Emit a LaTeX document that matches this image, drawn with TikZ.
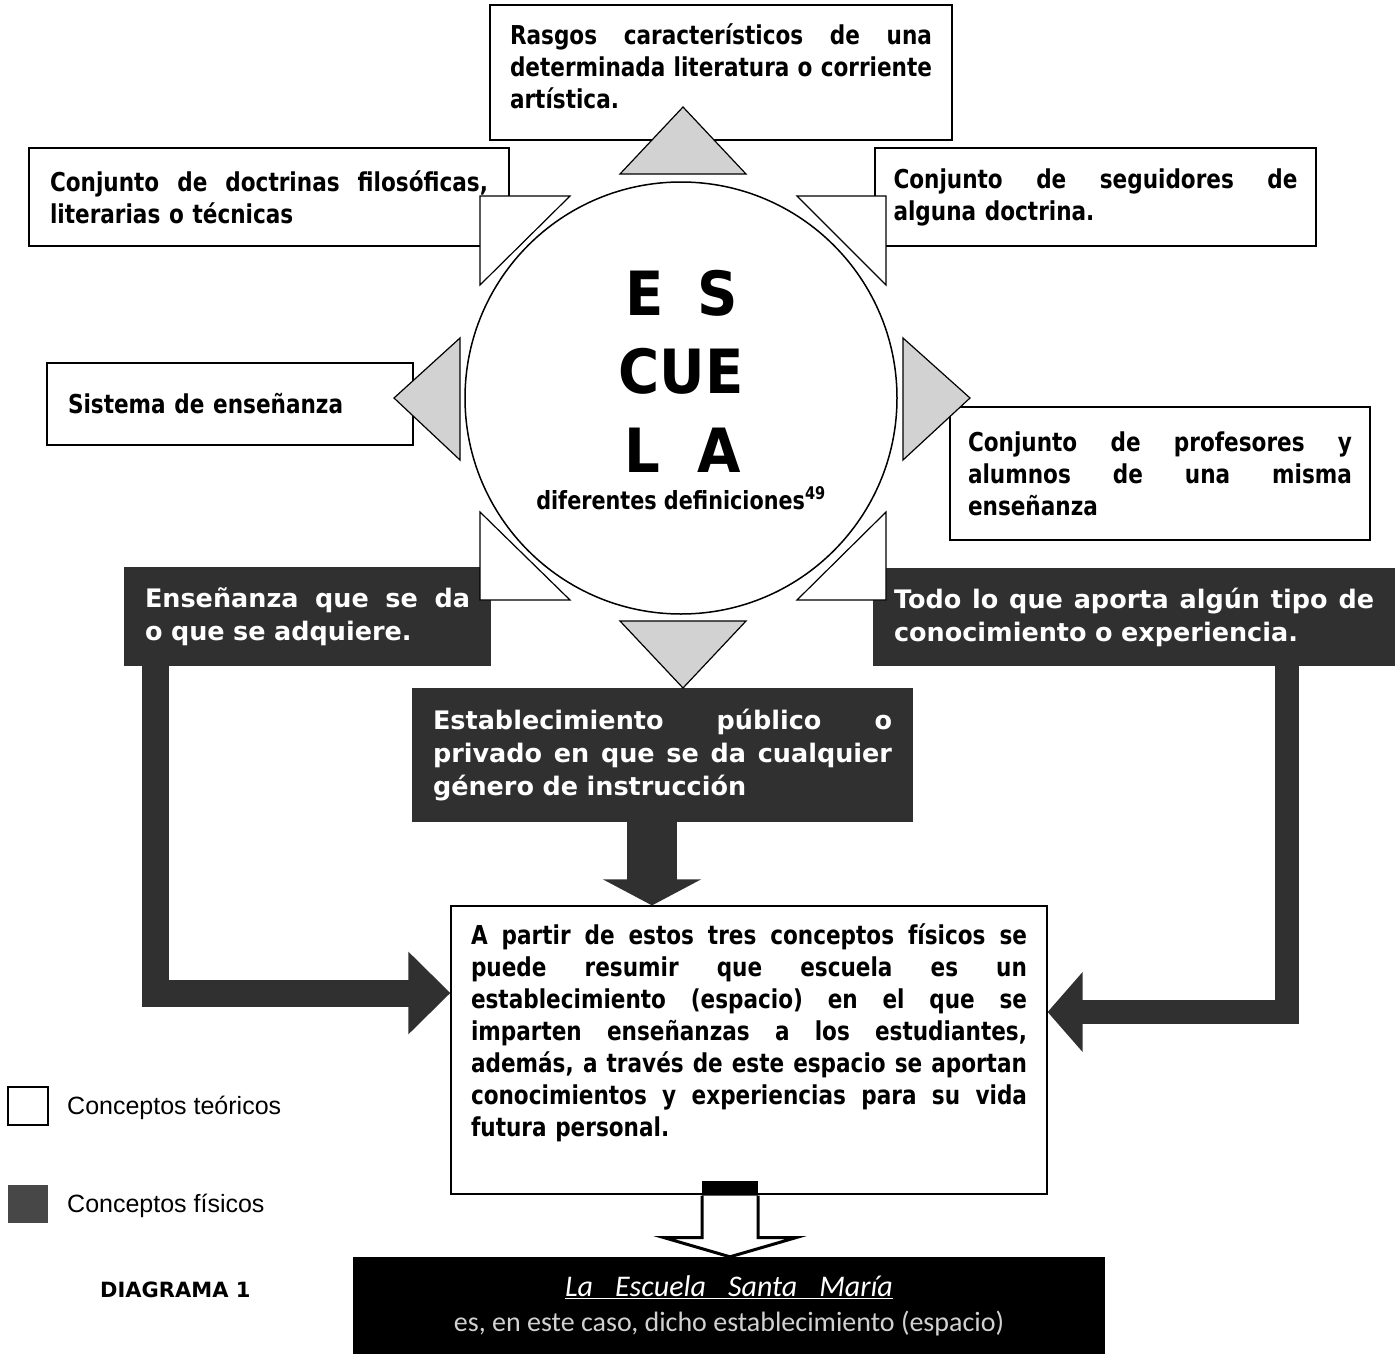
\documentclass[tikz,border=0pt]{standalone}
\usepackage{fontspec}
\setmainfont{DejaVu Sans}
\newfontfamily\bkfont{DejaVu Sans}[FakeStretch=0.83]
\newfontfamily\whfont{DejaVu Sans}
\newfontfamily\cfont{DejaVu Sans}[FakeStretch=0.92]
\newfontfamily\lgfont{Liberation Sans}
\newfontfamily\smfont{Carlito}
\usetikzlibrary{arrows.meta,calc}
\definecolor{dk}{HTML}{303030}
\definecolor{trigray}{HTML}{D2D2D2}
\newcommand{\jl}[1]{\leavevmode\hbox to \hsize{\spaceskip=\fontdimen2\font plus 1fil\relax #1}\\}
\begin{document}
\begin{tikzpicture}[x=1pt,y=-1pt,
  tbox/.style={draw=black, line width=1.2pt, fill=white, inner xsep=20pt, inner ysep=0pt,
    align=left, text=black, font=\bkfont\bfseries\fontsize{26}{32}\selectfont},
  tfree/.style={inner sep=0pt, align=left, text=black, font=\bkfont\bfseries\fontsize{26}{32}\selectfont},
  dbox/.style={fill=dk, inner xsep=21pt, inner ysep=0pt, align=left, text=white,
    font=\whfont\bfseries\fontsize{25.5}{33}\selectfont},
  tri/.style={draw=black, line width=1.2pt, line join=miter},
  fatarrow/.style={draw=dk, line join=miter}
]
\useasboundingbox (0,0) rectangle (1400,1354);

% theoretical concept boxes
\node[draw=black, line width=1.2pt, fill=white, minimum width=462pt, minimum height=135pt, inner sep=0pt] (ras) at (721,72.5) {};
\node[tfree, text width=422pt] (rast) at (721,66)
  {\jl{Rasgos característicos de una}\jl{determinada literatura o corriente}artística.};
\node[tbox, text width=438pt, inner xsep=21pt, minimum height=98pt] (doc) at (269,197)
  {\jl{Conjunto de doctrinas filosóficas,}literarias o técnicas};
\node[tbox, text width=404pt, inner xsep=18.5pt, minimum height=98pt] (seg) at (1095.5,197)
  {\jl{Conjunto de seguidores de}alguna doctrina.};
\node[tbox, text width=324pt, inner xsep=21pt, minimum height=82pt] (sis) at (230,404)
  {Sistema de enseñanza};
\node[tbox, text width=384pt, inner xsep=18pt, minimum height=133pt] (pro) at (1160,473.5)
  {\jl{Conjunto de profesores y}\jl{alumnos de una misma}enseñanza};

% physical concept boxes
\node[dbox, text width=325pt, minimum height=99pt] (ens) at (307.5,616.5)
  {\jl{Enseñanza que se da}o que se adquiere.};
\node[dbox, text width=480pt, minimum height=98pt] (tod) at (1134,617)
  {\jl{Todo lo que aporta algún tipo de}conocimiento o experiencia.};
\node[dbox, text width=459pt, minimum height=134pt] (est) at (662.5,755)
  {\jl{Establecimiento público o}\jl{privado en que se da cualquier}género de instrucción};

% central summary box
\node[tbox, text width=556pt, minimum height=288pt] (cen) at (749,1050)
  {\jl{A partir de estos tres conceptos físicos se}\jl{puede resumir que escuela es un}\jl{establecimiento (espacio) en el que se}\jl{imparten enseñanzas a los estudiantes,}\jl{además, a través de este espacio se aportan}\jl{conocimientos y experiencias para su vida}futura personal.\par\rule{0pt}{34pt}};

% bottom box
\node[fill=black, minimum width=752pt, minimum height=97pt, inner sep=0pt, align=center,
  text=white, font=\smfont\fontsize{28}{35}\selectfont] (sm) at (729,1305.5)
  {{\itshape\fontsize{30}{35}\selectfont\underline{\hbox to 328pt{\spaceskip=\fontdimen2\font plus 1fil\relax La Escuela Santa María}}}\\
   {\color{black!18}es, en este caso, dicho establecimiento (espacio)}};

% triangles
\filldraw[tri, fill=trigray] (683,107) -- (620,174) -- (746,174) -- cycle;
\filldraw[tri, fill=trigray] (394,398) -- (460,338) -- (460,460) -- cycle;
\filldraw[tri, fill=trigray] (970,398) -- (903,338) -- (903,460) -- cycle;
\filldraw[tri, fill=trigray] (620,621) -- (746,621) -- (683,688) -- cycle;
\filldraw[tri, fill=white] (480,196) -- (570,196) -- (480,285) -- cycle;
\filldraw[tri, fill=white] (797,196) -- (886,196) -- (886,285) -- cycle;
\filldraw[tri, fill=white] (480,512) -- (480,600) -- (570,600) -- cycle;
\filldraw[tri, fill=white] (886,512) -- (886,600) -- (797,600) -- cycle;

% central circle
\node[circle, draw=black, line width=1.5pt, fill=white, minimum size=432pt, inner sep=0pt] (circ) at (681,398) {};
\node[anchor=base, inner sep=0pt, font=\cfont\bfseries\fontsize{61}{61}\selectfont] (l1) at (682,315) {E\hspace{34pt}S};
\node[anchor=base, inner sep=0pt, font=\cfont\bfseries\fontsize{61}{61}\selectfont] (l2) at (681,393) {CUE};
\node[anchor=base, inner sep=0pt, font=\cfont\bfseries\fontsize{61}{61}\selectfont] (l3) at (683,472) {L\hspace{37pt}A};
\node[anchor=base, inner sep=0pt, font=\bkfont\bfseries\fontsize{25}{30}\selectfont] (l4) at (681,509) {diferentes definiciones\textsuperscript{49}};

% thick connectors
\coordinate (lA) at ($(ens.south west)+(32,0)$);
\draw[fatarrow, line width=27pt, -{Triangle[length=42pt,width=80pt]}] (lA) |- ($(cen.west)+(0,-57)$);
\coordinate (rA) at ($(tod.south east)+(-108,0)$);
\draw[fatarrow, line width=24pt, -{Triangle[length=35pt,width=78pt]}] (rA) |- ($(cen.east)+(0,-38)$);
\coordinate (mA) at ($(est.south)+(-10.5,0)$);
\draw[fatarrow, line width=50pt, -{Triangle[length=26pt,width=97pt]}] (mA) -- (mA |- cen.north);

% hollow arrow to bottom box
\coordinate (bA) at ($(cen.south)+(-19,0)$);
\fill[black] ($(bA)+(-28,-14)$) rectangle ($(bA)+(28,1)$);
\draw[line width=3pt, fill=white, line join=miter]
  ($(bA)+(-28,1)$) -- ($(bA)+(-28,43)$) -- ($(bA)+(-66,43)$) -- (bA |- sm.north)
  -- ($(bA)+(66,43)$) -- ($(bA)+(28,43)$) -- ($(bA)+(28,1)$);

% legend
\node[draw=black, line width=1.2pt, fill=white, minimum width=40pt, minimum height=38pt, inner sep=0pt] (lg1) at (28,1106) {};
\node[anchor=west, inner sep=0pt, font=\lgfont\fontsize{25}{30}\selectfont] (lt1) at (67,1108) {Conceptos teóricos};
\node[fill=black!72, minimum width=40pt, minimum height=38pt, inner sep=0pt] (lg2) at (28,1204) {};
\node[anchor=west, inner sep=0pt, font=\lgfont\fontsize{25}{30}\selectfont] (lt2) at (67,1206) {Conceptos físicos};
\node[anchor=base west, inner sep=0pt, font=\whfont\bfseries\fontsize{21}{25}\selectfont] (dg) at (100,1297) {DIAGRAMA 1};
\end{tikzpicture}
\end{document}
